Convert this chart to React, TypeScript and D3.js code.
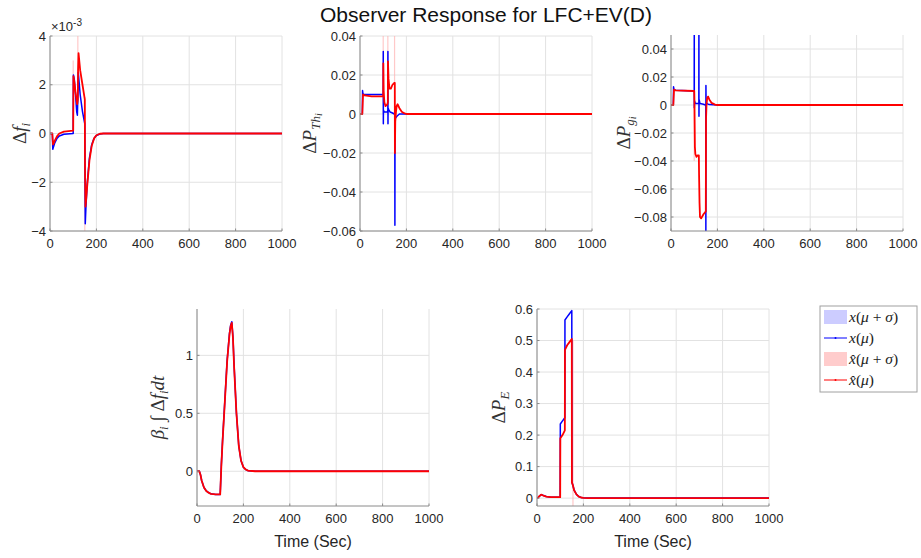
import React from "react";
import * as d3 from "d3";

// ---------- DATA ----------
const xTicks = [0, 200, 400, 600, 800, 1000];

// Plot 1: Δf_i (×10^-3)
const f_t_blue = [0, 10, 12, 15, 20, 30, 40, 60, 100, 101, 105, 110, 115, 118, 120, 122, 130, 140, 150, 151, 152, 155, 160, 170, 180, 190, 200, 215, 230, 1000];
const f_v_blue = [0, 0, -0.65, -0.55, -0.4, -0.2, -0.1, -0.03, 0, 2.4, 2.2, 1.6, 0.9, 0.75, 1.5, 2.5, 1.6, 0.9, 0.4, -2, -3.7, -3.0, -2.1, -1.0, -0.45, -0.2, -0.08, -0.02, 0, 0];
const f_t_red = [0, 10, 13, 16, 20, 30, 40, 60, 100, 101, 105, 110, 117, 120, 121, 123, 130, 140, 150, 151, 153, 155, 160, 170, 180, 190, 200, 215, 230, 1000];
const f_v_red = [0, 0, -0.45, -0.4, -0.3, -0.12, 0, 0.08, 0.12, 2.35, 2.1, 1.7, 1.2, 1.4, 2.6, 3.3, 2.6, 2.0, 1.4, -1.5, -3.0, -2.8, -2.2, -1.1, -0.5, -0.2, -0.07, -0.01, 0, 0];
const f_spk_t = [100, 120, 150];
const f_spk_lo = [0, 1.2, -4.2];
const f_spk_hi = [3, 4.2, 1.5];
const f_yTicks = [-4, -2, 0, 2, 4];

// Plot 2: ΔP_Th
const th_t_blue = [0, 10, 11, 12, 14, 50, 100, 100.3, 100.6, 101, 104, 110, 118, 120, 120.3, 120.6, 121, 125, 130, 140, 148, 150, 150.4, 151, 153, 160, 170, 200, 1000];
const th_v_blue = [0, 0, 0.012, 0.011, 0.01, 0.01, 0.01, 0.032, -0.005, 0.002, 0.001, 0.001, 0.001, 0.002, 0.032, -0.005, 0.003, 0.002, 0.001, 0.0005, 0, 0, -0.057, -0.003, -0.002, -0.001, 0, 0, 0];
const th_t_red = [0, 10, 13, 20, 50, 100, 100.5, 102, 105, 110, 118, 120, 120.5, 123, 127, 133, 140, 148, 150, 150.5, 152, 155, 158, 162, 170, 180, 190, 200, 1000];
const th_v_red = [0, 0, 0.01, 0.0095, 0.009, 0.009, 0.026, 0.012, 0.006, 0.004, 0.005, 0.006, 0.027, 0.018, 0.013, 0.013, 0.015, 0.016, 0.016, -0.02, -0.004, 0.001, 0.004, 0.005, 0.003, 0.0012, 0.0004, 0, 0];
const th_spk_t = [100, 120, 149];
const th_spk_lo = [0, 0, -0.02];
const th_spk_hi = [0.04, 0.04, 0.04];
const th_yTicks = [-0.06, -0.04, -0.02, 0, 0.02, 0.04];

// Plot 3: ΔP_g
const g_t_blue = [0, 10, 11, 13, 20, 100, 100.3, 100.6, 101, 105, 118, 120, 120.3, 120.6, 121, 125, 140, 148, 150, 150.3, 150.6, 151, 155, 165, 200, 1000];
const g_v_blue = [0, 0, 0.013, 0.011, 0.0105, 0.01, 0.06, -0.002, 0.003, 0.001, 0.001, 0.001, 0.06, -0.008, 0.004, 0.001, 0.0005, 0, 0, -0.095, 0.014, 0.002, 0.001, 0.0003, 0, 0];
const g_t_red = [0, 10, 13, 20, 100, 101, 103, 105, 110, 115, 120, 121, 123, 125, 130, 140, 150, 151, 153, 156, 160, 165, 175, 190, 200, 1000];
const g_v_red = [0, 0, 0.011, 0.0105, 0.01, 0.003, -0.03, -0.035, -0.037, -0.036, -0.036, -0.05, -0.07, -0.08, -0.081, -0.078, -0.076, -0.01, 0, 0.005, 0.006, 0.004, 0.0015, 0.0003, 0, 0];
const g_spk_t = [100, 150];
const g_spk_lo = [-0.04, -0.08];
const g_spk_hi = [0.01, 0.008];
const g_yTicks = [-0.08, -0.06, -0.04, -0.02, 0, 0.02, 0.04];

// Plot 4: β_i ∫ Δf_i dt
const b_t = [0, 10, 15, 20, 30, 40, 50, 60, 80, 100, 105, 110, 120, 130, 140, 145, 150, 155, 160, 170, 180, 190, 200, 210, 220, 250, 1000];
const b_v_blue = [0, 0, -0.03, -0.08, -0.14, -0.17, -0.185, -0.195, -0.2, -0.2, 0.06, 0.26, 0.61, 0.96, 1.19, 1.26, 1.29, 1.16, 0.91, 0.5, 0.22, 0.09, 0.035, 0.015, 0.005, 0, 0];
const b_v_red = [0, 0, -0.03, -0.08, -0.14, -0.17, -0.185, -0.195, -0.2, -0.2, 0.05, 0.25, 0.6, 0.95, 1.18, 1.25, 1.28, 1.15, 0.9, 0.5, 0.22, 0.09, 0.035, 0.015, 0.005, 0, 0];
const b_yTicks = [0, 0.5, 1];

// Plot 5: ΔP_E
const e_t = [0, 5, 10, 18, 25, 40, 60, 100, 100.5, 110, 120, 120.5, 130, 140, 150, 150.5, 155, 160, 170, 180, 190, 200, 220, 1000];
const e_v_blue = [0, 0.002, 0.006, 0.011, 0.009, 0.005, 0.003, 0.003, 0.235, 0.245, 0.255, 0.565, 0.575, 0.585, 0.595, 0.05, 0.04, 0.025, 0.012, 0.005, 0.002, 0.001, 0, 0];
const e_v_red = [0, 0.002, 0.006, 0.011, 0.009, 0.005, 0.003, 0.003, 0.19, 0.2, 0.215, 0.47, 0.485, 0.495, 0.505, 0.05, 0.04, 0.025, 0.012, 0.005, 0.002, 0.001, 0, 0];
const e_spk_t = [155];
const e_spk_lo = [-0.03];
const e_spk_hi = [0.5];
const e_yTicks = [0, 0.1, 0.2, 0.3, 0.4, 0.5, 0.6];

const titleText = "Observer Response for LFC+EV(D)";
const xLabelText = "Time (Sec)";

// ---------- STYLE / LAYOUT ----------
const BLUE = "#0000ff";
const RED = "#ff0000";
const GRID = "#e2e2e2";
const AXIS = "#8a8a8a";
const TXT = "#262626";
const SANS = "'Liberation Sans', Arial, Helvetica, sans-serif";
const SERIF = "'Liberation Serif', 'Times New Roman', serif";

type Panel = {
  id: string;
  box: [number, number, number, number]; // x0,x1,y0,y1
  yDomain: [number, number];
  yTicks: number[];
  fmt: (v: number) => string;
  blueT: number[]; blueV: number[];
  redT: number[]; redV: number[];
  spkT: number[]; spkLo: number[]; spkHi: number[];
  labelX: number;
  label: React.ReactNode;
  xLabel?: boolean;
};

const fmtPlain = (v: number) => (v === 0 ? "0" : d3.format("")(+v.toFixed(3)));
const SUB = 13;
const SUB2 = 10;

const panels: Panel[] = [
  {
    id: "p1", box: [50, 282, 36, 231], yDomain: [-4, 4], yTicks: f_yTicks, fmt: fmtPlain,
    blueT: f_t_blue, blueV: f_v_blue, redT: f_t_red, redV: f_v_red,
    spkT: f_spk_t, spkLo: f_spk_lo, spkHi: f_spk_hi, labelX: 26,
    label: (<>
      <tspan>Δ</tspan><tspan fontStyle="italic">f</tspan><tspan fontStyle="italic" fontSize={SUB} dy={4}>i</tspan>
    </>),
  },
  {
    id: "p2", box: [360, 592, 36, 231], yDomain: [-0.06, 0.04], yTicks: th_yTicks, fmt: fmtPlain,
    blueT: th_t_blue, blueV: th_v_blue, redT: th_t_red, redV: th_v_red,
    spkT: th_spk_t, spkLo: th_spk_lo, spkHi: th_spk_hi, labelX: 316,
    label: (<>
      <tspan>Δ</tspan><tspan fontStyle="italic">P</tspan><tspan fontStyle="italic" fontSize={SUB} dy={4}>Th</tspan><tspan fontStyle="italic" fontSize={SUB2} dy={2}>i</tspan>
    </>),
  },
  {
    id: "p3", box: [671, 903, 35, 231], yDomain: [-0.09, 0.05], yTicks: g_yTicks, fmt: fmtPlain,
    blueT: g_t_blue, blueV: g_v_blue, redT: g_t_red, redV: g_v_red,
    spkT: g_spk_t, spkLo: g_spk_lo, spkHi: g_spk_hi, labelX: 630,
    label: (<>
      <tspan>Δ</tspan><tspan fontStyle="italic">P</tspan><tspan fontStyle="italic" fontSize={SUB} dy={4}>g</tspan><tspan fontStyle="italic" fontSize={SUB2} dy={2}>i</tspan>
    </>),
  },
  {
    id: "p4", box: [197, 429, 309, 506], yDomain: [-0.3, 1.4], yTicks: b_yTicks, fmt: fmtPlain,
    blueT: b_t, blueV: b_v_blue, redT: b_t, redV: b_v_red,
    spkT: [], spkLo: [], spkHi: [], labelX: 164, xLabel: true,
    label: (<>
      <tspan fontStyle="italic">β</tspan><tspan fontStyle="italic" fontSize={SUB} dy={4}>i</tspan>
      <tspan dy={-4}> ∫ Δ</tspan><tspan fontStyle="italic">f</tspan><tspan fontStyle="italic" fontSize={SUB} dy={4}>i</tspan>
      <tspan fontStyle="italic" dy={-4}>dt</tspan>
    </>),
  },
  {
    id: "p5", box: [537, 769, 309, 506], yDomain: [-0.025, 0.6], yTicks: e_yTicks, fmt: fmtPlain,
    blueT: e_t, blueV: e_v_blue, redT: e_t, redV: e_v_red,
    spkT: e_spk_t, spkLo: e_spk_lo, spkHi: e_spk_hi, labelX: 505, xLabel: true,
    label: (<>
      <tspan>Δ</tspan><tspan fontStyle="italic">P</tspan><tspan fontStyle="italic" fontSize={SUB} dy={4}>E</tspan>
    </>),
  },
];

function PanelView({ p }: { p: Panel }) {
  const [x0, x1, y0, y1] = p.box;
  const x = d3.scaleLinear().domain([0, 1000]).range([x0, x1]);
  const y = d3.scaleLinear().domain(p.yDomain).range([y1, y0]);
  const line = d3.line<[number, number]>().x((d) => x(d[0])).y((d) => y(d[1]));
  const blue: [number, number][] = p.blueT.map((t, i) => [t, p.blueV[i]]);
  const red: [number, number][] = p.redT.map((t, i) => [t, p.redV[i]]);
  const cy = (y0 + y1) / 2;
  return (
    <g>
      <defs>
        <clipPath id={"clip-" + p.id}>
          <rect x={x0} y={y0} width={x1 - x0} height={y1 - y0} />
        </clipPath>
      </defs>
      {xTicks.map((t) => (
        <line key={"gx" + t} x1={x(t)} x2={x(t)} y1={y0} y2={y1} stroke={GRID} strokeWidth={1} />
      ))}
      {p.yTicks.map((t) => (
        <line key={"gy" + t} x1={x0} x2={x1} y1={y(t)} y2={y(t)} stroke={GRID} strokeWidth={1} />
      ))}
      <g clipPath={`url(#clip-${p.id})`}>
        {p.spkT.map((t, i) => (
          <line key={"s" + i} x1={x(t)} x2={x(t)} y1={y(p.spkLo[i])} y2={y(p.spkHi[i])} stroke="#ffb3b3" strokeWidth={1.2} opacity={0.7} />
        ))}
        <path d={line(blue) || ""} fill="none" stroke={BLUE} strokeWidth={1.5} strokeLinejoin="round" />
        <path d={line(red) || ""} fill="none" stroke={RED} strokeWidth={1.8} strokeLinejoin="round" />
      </g>
      <line x1={x0} x2={x0} y1={y0} y2={y1} stroke={AXIS} strokeWidth={1} />
      <line x1={x0} x2={x1} y1={y1} y2={y1} stroke={AXIS} strokeWidth={1} />
      {xTicks.map((t) => (
        <g key={"xt" + t}>
          <line x1={x(t)} x2={x(t)} y1={y1} y2={y1 - 2.5} stroke={AXIS} />
          <text x={x(t)} y={y1 + 17} textAnchor="middle" fontFamily={SANS} fontSize={13} fill={TXT}>{t}</text>
        </g>
      ))}
      {p.yTicks.map((t) => (
        <g key={"yt" + t}>
          <line x1={x0} x2={x0 + 2.5} y1={y(t)} y2={y(t)} stroke={AXIS} />
          <text x={x0 - 4} y={y(t) + 4.5} textAnchor="end" fontFamily={SANS} fontSize={13} fill={TXT}>{p.fmt(t)}</text>
        </g>
      ))}
      <text transform={`translate(${p.labelX},${cy}) rotate(-90)`} textAnchor="middle" fontFamily={SERIF} fontSize={19} fill="#333">
        {p.label}
      </text>
      {p.xLabel && (
        <text x={(x0 + x1) / 2} y={y1 + 41} textAnchor="middle" fontFamily={SANS} fontSize={16} fill={TXT}>{xLabelText}</text>
      )}
    </g>
  );
}

const legendItems = [
  { kind: "patch", color: "#ccccff", label: (<><tspan fontStyle="italic">x</tspan>(<tspan fontStyle="italic">μ</tspan> + <tspan fontStyle="italic">σ</tspan>)</>) },
  { kind: "line", color: BLUE, label: (<><tspan fontStyle="italic">x</tspan>(<tspan fontStyle="italic">μ</tspan>)</>) },
  { kind: "patch", color: "#ffcccc", label: (<><tspan fontStyle="italic">x̂</tspan>(<tspan fontStyle="italic">μ</tspan> + <tspan fontStyle="italic">σ</tspan>)</>) },
  { kind: "line", color: RED, label: (<><tspan fontStyle="italic">x̂</tspan>(<tspan fontStyle="italic">μ</tspan>)</>) },
];

export default function App() {
  return (
    <svg width={921} height={558} style={{ position: "absolute", left: 0, top: 0, background: "#fff" }}>
      <rect x={0} y={0} width={921} height={558} fill="#fff" />
      <text x={486} y={22} textAnchor="middle" fontFamily={SANS} fontSize={21} fill="#111">{titleText}</text>
      {panels.map((p) => <PanelView key={p.id} p={p} />)}
      <text x={51} y={31} fontFamily={SANS} fontSize={13} fill={TXT}>
        ×10<tspan fontSize={10} dy={-5}>-3</tspan>
      </text>
      <g>
        <rect x={820} y={306} width={97} height={86} fill="#fff" stroke="#a0a0a0" strokeWidth={1} />
        {legendItems.map((it, i) => {
          const cy = 317 + i * 21;
          return (
            <g key={i}>
              {it.kind === "patch" ? (
                <rect x={824} y={cy - 7} width={23} height={14} fill={it.color} />
              ) : (
                <g>
                  <line x1={824} x2={847} y1={cy} y2={cy} stroke={it.color} strokeWidth={1} />
                  <circle cx={835.5} cy={cy} r={1} fill={it.color} />
                </g>
              )}
              <text x={849} y={cy + 5} fontFamily={SERIF} fontSize={15.5} fill="#222">{it.label}</text>
            </g>
          );
        })}
      </g>
    </svg>
  );
}
